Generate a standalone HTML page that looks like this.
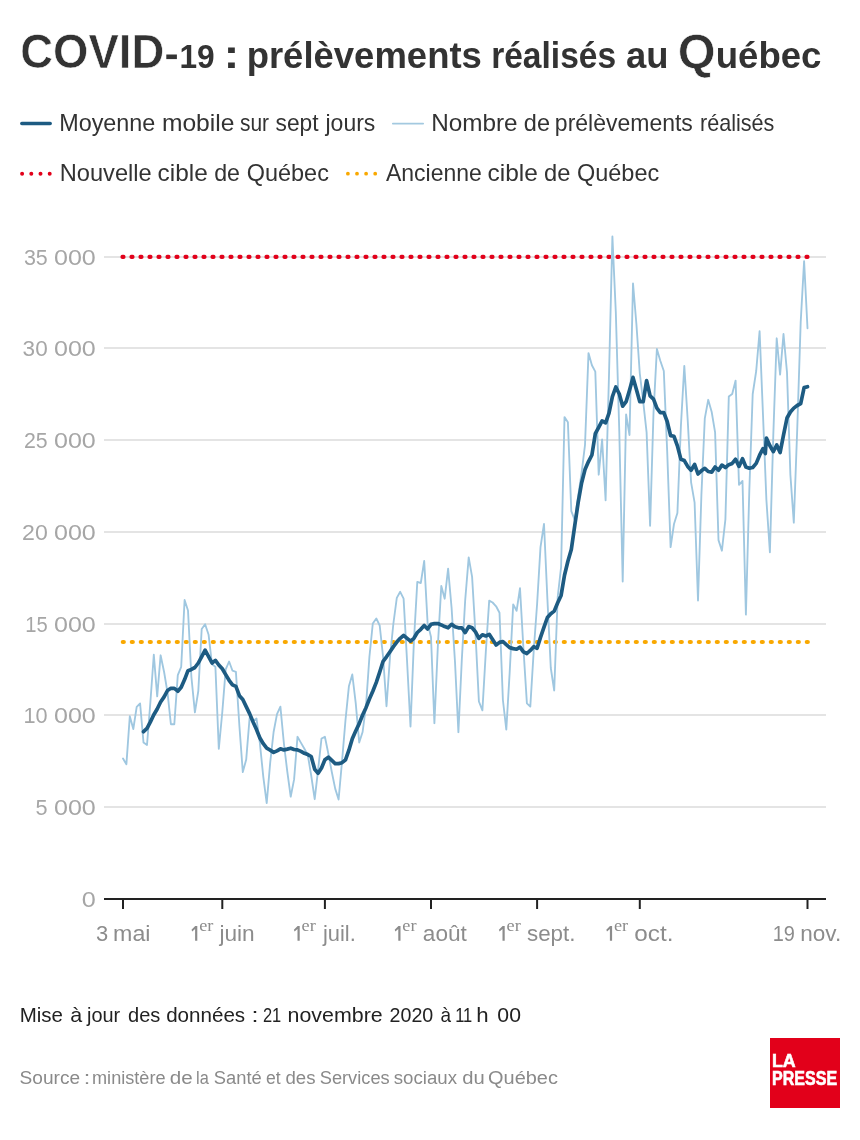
<!DOCTYPE html>
<html lang="fr"><head><meta charset="utf-8"><title>COVID-19 : prélèvements réalisés au Québec</title>
<style>
html,body{margin:0;padding:0;background:#fff;}
body{width:860px;height:1140px;overflow:hidden;font-family:"Liberation Sans",sans-serif;}
svg{display:block;}
text{font-family:"Liberation Sans",sans-serif;}
.serif{font-family:"Liberation Serif",serif;}
</style></head><body>
<svg width="860" height="1140" viewBox="0 0 860 1140">
<rect width="860" height="1140" fill="#fff"/>
<!-- legend swatches -->
<line x1="21.8" x2="50.2" y1="123.6" y2="123.6" stroke="#1d5b82" stroke-width="3.5" stroke-linecap="round"/>
<line x1="392.8" x2="423.2" y1="123.6" y2="123.6" stroke="#a3c9e0" stroke-width="1.7" stroke-linecap="round"/>
<line x1="22.1" x2="50" y1="173.7" y2="173.7" stroke="#e2001a" stroke-width="4" stroke-linecap="round" stroke-dasharray="0 9.2"/>
<line x1="347.9" x2="376" y1="173.7" y2="173.7" stroke="#f9a800" stroke-width="3.8" stroke-linecap="round" stroke-dasharray="0 9.1"/>
<!-- grid -->
<line x1="104" x2="826" y1="807.0" y2="807.0" stroke="#e4e4e4" stroke-width="2"/>
<line x1="104" x2="826" y1="715.0" y2="715.0" stroke="#e4e4e4" stroke-width="2"/>
<line x1="104" x2="826" y1="624.0" y2="624.0" stroke="#e4e4e4" stroke-width="2"/>
<line x1="104" x2="826" y1="532.0" y2="532.0" stroke="#e4e4e4" stroke-width="2"/>
<line x1="104" x2="826" y1="440.0" y2="440.0" stroke="#e4e4e4" stroke-width="2"/>
<line x1="104" x2="826" y1="348.0" y2="348.0" stroke="#e4e4e4" stroke-width="2"/>
<line x1="104" x2="826" y1="257.0" y2="257.0" stroke="#e4e4e4" stroke-width="2"/>

<!-- target lines -->
<line x1="122.5" x2="808.4" y1="256.9" y2="256.9" stroke="#e2001a" stroke-width="4.2" stroke-linecap="round" stroke-dasharray="1 8"/>
<line x1="122.8" x2="808.4" y1="642" y2="642" stroke="#f9a800" stroke-width="4.2" stroke-linecap="round" stroke-dasharray="1 8"/>
<!-- data -->
<polyline fill="none" stroke="#9fc7e0" stroke-width="1.85" stroke-linejoin="round" stroke-linecap="round" points="123.0,758.5 126.4,764.3 129.8,716.2 133.3,729.0 136.7,706.8 140.1,703.5 143.5,742.5 147.0,745.0 150.4,702.0 153.8,654.7 157.2,696.3 160.6,655.3 164.1,672.0 167.5,692.4 170.9,724.2 174.3,724.2 177.8,675.1 181.2,666.8 184.6,600.0 188.0,610.5 191.4,677.0 194.9,712.3 198.3,691.0 201.7,629.0 205.1,624.3 208.6,634.8 212.0,664.3 215.4,666.8 218.8,748.8 222.3,712.0 225.7,669.4 229.1,661.5 232.5,670.7 235.9,671.8 239.4,726.0 242.8,772.1 246.2,759.6 249.6,718.0 253.1,721.0 256.5,718.5 259.9,743.5 263.3,776.8 266.7,803.1 270.2,762.7 273.6,732.0 277.0,714.2 280.4,706.7 283.9,743.5 287.3,771.7 290.7,796.7 294.1,779.4 297.5,736.8 301.0,742.9 304.4,748.7 307.8,755.0 311.2,775.5 314.7,799.2 318.1,769.8 321.5,738.5 324.9,736.8 328.4,754.0 331.8,772.0 335.2,788.6 338.6,799.5 342.0,761.7 345.5,720.0 348.9,686.3 352.3,674.5 355.7,702.9 359.2,742.5 362.6,732.0 366.0,706.0 369.4,657.0 372.8,623.5 376.3,618.4 379.7,625.5 383.1,657.0 386.5,706.3 390.0,657.0 393.4,623.5 396.8,597.9 400.2,591.8 403.6,598.6 407.1,662.0 410.5,726.5 413.9,641.5 417.3,581.9 420.8,583.0 424.2,561.0 427.6,623.0 431.0,637.0 434.4,723.2 437.9,645.0 441.3,585.9 444.7,598.7 448.1,568.6 451.6,608.0 455.0,662.0 458.4,732.2 461.8,660.0 465.2,600.0 468.7,557.4 472.1,576.9 475.5,634.0 478.9,701.5 482.4,710.4 485.8,652.0 489.2,600.6 492.6,602.5 496.1,606.3 499.5,612.7 502.9,700.0 506.3,729.6 509.7,672.0 513.2,604.4 516.6,610.8 520.0,588.2 523.4,648.0 526.9,703.4 530.3,706.6 533.7,651.0 537.1,604.0 540.5,547.1 544.0,524.0 547.4,599.0 550.8,668.0 554.2,690.5 557.7,597.0 561.1,567.0 564.5,417.1 567.9,422.2 571.3,511.2 574.8,520.2 578.2,496.0 581.6,472.8 585.0,445.0 588.5,353.1 591.9,365.2 595.3,371.6 598.7,474.7 602.1,439.5 605.6,500.3 609.0,375.0 612.4,236.4 615.8,312.0 619.3,432.0 622.7,581.6 626.1,414.5 629.5,435.0 633.0,283.4 636.4,324.0 639.8,373.5 643.2,401.7 646.6,432.4 650.1,525.8 653.5,413.0 656.9,348.9 660.3,360.7 663.8,371.0 667.2,451.6 670.6,547.1 674.0,524.0 677.4,513.0 680.9,426.0 684.3,365.9 687.7,420.0 691.1,482.3 694.6,502.7 698.0,600.5 701.4,495.0 704.8,418.3 708.2,399.8 711.7,412.0 715.1,432.4 718.5,540.1 721.9,550.7 725.4,519.3 728.8,396.6 732.2,394.0 735.6,380.6 739.0,484.8 742.5,481.0 745.9,614.6 749.3,491.0 752.7,394.0 756.2,371.0 759.6,331.2 763.0,415.0 766.4,500.0 769.9,552.3 773.3,435.0 776.7,338.3 780.1,374.6 783.5,334.0 787.0,372.3 790.4,475.0 793.8,522.6 797.2,430.0 800.7,322.0 804.1,261.1 807.5,328.3"/>
<polyline fill="none" stroke="#1d5b82" stroke-width="3.7" stroke-linejoin="round" stroke-linecap="round" points="143.5,731.7 147.0,728.4 150.4,721.9 153.8,714.8 157.2,709.0 160.6,702.0 164.1,696.9 167.5,690.5 170.9,688.3 174.3,688.3 177.8,691.2 181.2,687.3 184.6,679.6 188.0,670.7 191.4,669.4 194.9,667.5 198.3,663.0 201.7,656.6 205.1,650.2 208.6,656.6 212.0,663.0 215.4,660.4 218.8,665.0 222.3,668.8 225.7,674.6 229.1,680.3 232.5,684.8 235.9,686.4 239.4,695.7 242.8,699.5 246.2,706.6 249.6,713.6 253.1,722.0 256.5,729.6 259.9,738.0 263.3,743.7 266.7,748.2 270.2,750.1 273.6,752.4 277.0,750.8 280.4,748.8 283.9,749.9 287.3,749.1 290.7,748.2 294.1,749.5 297.5,749.9 301.0,751.4 304.4,753.3 307.8,754.6 311.2,756.5 314.7,769.3 318.1,773.2 321.5,768.0 324.9,759.8 328.4,757.2 331.8,760.4 335.2,763.6 338.6,763.6 342.0,762.7 345.5,759.8 348.9,750.2 352.3,738.7 355.7,731.0 359.2,723.6 362.6,715.0 366.0,707.7 369.4,699.0 372.8,691.3 376.3,682.4 379.7,672.2 383.1,661.3 386.5,656.8 390.0,651.7 393.4,646.6 396.8,642.1 400.2,638.3 403.6,635.3 407.1,638.3 410.5,641.2 413.9,638.3 417.3,632.5 420.8,629.3 424.2,625.5 427.6,629.0 431.0,624.3 434.4,623.6 437.9,623.6 441.3,624.9 444.7,626.6 448.1,627.8 451.6,624.3 455.0,626.8 458.4,627.8 461.8,627.8 465.2,632.6 468.7,626.6 472.1,627.8 475.5,631.9 478.9,638.3 482.4,634.8 485.8,636.0 489.2,634.3 492.6,639.6 496.1,645.0 499.5,642.4 502.9,641.5 506.3,644.7 509.7,647.6 513.2,648.6 516.6,649.2 520.0,647.1 523.4,651.8 526.9,653.5 530.3,650.4 533.7,646.7 537.1,648.3 540.5,637.4 544.0,627.1 547.4,617.5 550.8,613.7 554.2,611.1 557.7,602.8 561.1,595.4 564.5,575.2 567.9,561.2 571.3,549.6 574.8,525.3 578.2,502.3 581.6,483.0 585.0,469.6 588.5,461.6 591.9,455.0 595.3,433.7 598.7,427.3 602.1,420.9 605.6,422.8 609.0,413.2 612.4,396.6 615.8,387.0 619.3,394.0 622.7,406.2 626.1,401.7 629.5,390.2 633.0,377.4 636.4,389.5 639.8,401.7 643.2,401.7 646.6,380.6 650.1,395.9 653.5,399.1 656.9,408.1 660.3,412.6 663.8,412.6 667.2,421.5 670.6,435.6 674.0,436.3 677.4,445.9 680.9,459.3 684.3,460.6 687.7,466.4 691.1,470.2 694.6,464.4 698.0,474.0 701.4,470.8 704.8,468.3 708.2,471.5 711.7,472.1 715.1,467.0 718.5,470.2 721.9,465.1 725.4,467.6 728.8,464.7 732.2,463.4 735.6,459.3 739.0,466.4 742.5,458.7 745.9,467.0 749.3,468.2 752.7,467.5 756.2,463.4 759.6,455.2 763.0,448.6 765.3,453.5 766.4,438.1 769.9,445.8 773.3,451.6 776.7,445.0 780.1,452.6 783.5,435.2 787.0,418.0 790.4,412.0 793.8,408.1 797.2,405.5 800.7,403.6 804.1,387.6 807.5,386.7"/>
<!-- axis -->
<line x1="104" x2="826" y1="899" y2="899" stroke="#222" stroke-width="2"/>
<line x1="123.0" x2="123.0" y1="899" y2="909" stroke="#222" stroke-width="2"/>
<line x1="222.3" x2="222.3" y1="899" y2="909" stroke="#222" stroke-width="2"/>
<line x1="324.9" x2="324.9" y1="899" y2="909" stroke="#222" stroke-width="2"/>
<line x1="431.0" x2="431.0" y1="899" y2="909" stroke="#222" stroke-width="2"/>
<line x1="537.1" x2="537.1" y1="899" y2="909" stroke="#222" stroke-width="2"/>
<line x1="639.8" x2="639.8" y1="899" y2="909" stroke="#222" stroke-width="2"/>
<line x1="807.5" x2="807.5" y1="899" y2="909" stroke="#222" stroke-width="2"/>

<!-- text -->
<rect x="166.3" y="54.5" width="10.6" height="4.6" fill="#333"/>
<g style="filter:grayscale(1)">
<text x="20.18" y="68.0" font-size="47.5" font-weight="bold" stroke="#fff" stroke-width="0.6" fill="#333333" textLength="144.07" lengthAdjust="spacingAndGlyphs">COVID</text>
<text x="179.52" y="68.0" font-size="33.6" font-weight="bold" fill="#333333" textLength="35.19" lengthAdjust="spacingAndGlyphs">19</text>
<text x="223.43" y="68.0" font-size="41" font-weight="bold" fill="#333333" textLength="15.93" lengthAdjust="spacingAndGlyphs">:</text>
<text x="246.65" y="68.0" font-size="37.3" font-weight="bold" fill="#333333" textLength="235.21" lengthAdjust="spacingAndGlyphs">prélèvements</text>
<text x="491.15" y="68.0" font-size="37.3" font-weight="bold" fill="#333333" textLength="124.96" lengthAdjust="spacingAndGlyphs">réalisés</text>
<text x="626.12" y="68.0" font-size="37.3" font-weight="bold" fill="#333333" textLength="42.47" lengthAdjust="spacingAndGlyphs">au</text>
<text x="677.72" y="68.0" font-size="47.5" font-weight="bold" stroke="#fff" stroke-width="0.6" fill="#333333" textLength="37.81" lengthAdjust="spacingAndGlyphs">Q</text>
<text x="715.69" y="68.0" font-size="37.3" font-weight="bold" fill="#333333" textLength="105.76" lengthAdjust="spacingAndGlyphs">uébec</text>
<text x="59.21" y="130.8" font-size="23.4" fill="#333333" textLength="96.10" lengthAdjust="spacingAndGlyphs">Moyenne</text>
<text x="161.91" y="130.8" font-size="23.4" fill="#333333" textLength="72.44" lengthAdjust="spacingAndGlyphs">mobile</text>
<text x="240.03" y="130.8" font-size="23.4" fill="#333333" textLength="29.06" lengthAdjust="spacingAndGlyphs">sur</text>
<text x="275.54" y="130.8" font-size="23.4" fill="#333333" textLength="43.00" lengthAdjust="spacingAndGlyphs">sept</text>
<text x="325.52" y="130.8" font-size="23.4" fill="#333333" textLength="49.83" lengthAdjust="spacingAndGlyphs">jours</text>
<text x="431.23" y="130.8" font-size="23.4" fill="#333333" textLength="86.39" lengthAdjust="spacingAndGlyphs">Nombre</text>
<text x="523.87" y="130.8" font-size="23.4" fill="#333333" textLength="26.16" lengthAdjust="spacingAndGlyphs">de</text>
<text x="554.85" y="130.8" font-size="23.4" fill="#333333" textLength="138.02" lengthAdjust="spacingAndGlyphs">prélèvements</text>
<text x="700.03" y="130.8" font-size="23.4" fill="#333333" textLength="74.39" lengthAdjust="spacingAndGlyphs">réalisés</text>
<text x="59.79" y="180.8" font-size="23.4" fill="#333333" textLength="91.93" lengthAdjust="spacingAndGlyphs">Nouvelle</text>
<text x="157.61" y="180.8" font-size="23.4" fill="#333333" textLength="50.14" lengthAdjust="spacingAndGlyphs">cible</text>
<text x="214.18" y="180.8" font-size="23.4" fill="#333333" textLength="25.83" lengthAdjust="spacingAndGlyphs">de</text>
<text x="246.78" y="180.8" font-size="23.4" fill="#333333" textLength="82.11" lengthAdjust="spacingAndGlyphs">Québec</text>
<text x="385.99" y="180.8" font-size="23.4" fill="#333333" textLength="95.91" lengthAdjust="spacingAndGlyphs">Ancienne</text>
<text x="487.60" y="180.8" font-size="23.4" fill="#333333" textLength="50.25" lengthAdjust="spacingAndGlyphs">cible</text>
<text x="543.96" y="180.8" font-size="23.4" fill="#333333" textLength="26.38" lengthAdjust="spacingAndGlyphs">de</text>
<text x="576.98" y="180.8" font-size="23.4" fill="#333333" textLength="82.21" lengthAdjust="spacingAndGlyphs">Québec</text>
<text x="23.90" y="264.7" font-size="21.8" fill="#a6a6a6" textLength="23.84" lengthAdjust="spacingAndGlyphs">35</text>
<text x="53.97" y="264.7" font-size="21.8" fill="#a6a6a6" textLength="41.84" lengthAdjust="spacingAndGlyphs">000</text>
<text x="22.64" y="355.7" font-size="21.8" fill="#a6a6a6" textLength="25.08" lengthAdjust="spacingAndGlyphs">30</text>
<text x="53.97" y="355.7" font-size="21.8" fill="#a6a6a6" textLength="41.84" lengthAdjust="spacingAndGlyphs">000</text>
<text x="24.03" y="447.7" font-size="21.8" fill="#a6a6a6" textLength="23.70" lengthAdjust="spacingAndGlyphs">25</text>
<text x="53.97" y="447.7" font-size="21.8" fill="#a6a6a6" textLength="41.84" lengthAdjust="spacingAndGlyphs">000</text>
<text x="22.04" y="539.7" font-size="21.8" fill="#a6a6a6" textLength="25.71" lengthAdjust="spacingAndGlyphs">20</text>
<text x="53.97" y="539.7" font-size="21.8" fill="#a6a6a6" textLength="41.84" lengthAdjust="spacingAndGlyphs">000</text>
<text x="25.26" y="631.7" font-size="21.8" fill="#a6a6a6" textLength="22.42" lengthAdjust="spacingAndGlyphs">15</text>
<text x="53.97" y="631.7" font-size="21.8" fill="#a6a6a6" textLength="41.84" lengthAdjust="spacingAndGlyphs">000</text>
<text x="23.54" y="722.7" font-size="21.8" fill="#a6a6a6" textLength="24.14" lengthAdjust="spacingAndGlyphs">10</text>
<text x="53.97" y="722.7" font-size="21.8" fill="#a6a6a6" textLength="41.84" lengthAdjust="spacingAndGlyphs">000</text>
<text x="35.56" y="814.7" font-size="21.8" fill="#a6a6a6" textLength="12.07" lengthAdjust="spacingAndGlyphs">5</text>
<text x="53.97" y="814.7" font-size="21.8" fill="#a6a6a6" textLength="41.84" lengthAdjust="spacingAndGlyphs">000</text>
<text x="81.77" y="906.7" font-size="21.8" fill="#a6a6a6" textLength="14.02" lengthAdjust="spacingAndGlyphs">0</text>
<text x="96.06" y="940.6" font-size="21.5" fill="#8c8c8c" textLength="12.20" lengthAdjust="spacingAndGlyphs">3</text>
<text x="113.11" y="940.6" font-size="21.5" fill="#8c8c8c" textLength="37.35" lengthAdjust="spacingAndGlyphs">mai</text>
<text x="199.15" y="930.6" font-size="16.5" class="serif" fill="#8c8c8c" textLength="14.18" lengthAdjust="spacingAndGlyphs">er</text>
<text x="219.43" y="940.6" font-size="21.5" fill="#8c8c8c" textLength="35.29" lengthAdjust="spacingAndGlyphs">juin</text>
<text x="301.55" y="930.6" font-size="16.5" class="serif" fill="#8c8c8c" textLength="14.18" lengthAdjust="spacingAndGlyphs">er</text>
<text x="322.91" y="940.6" font-size="21.5" fill="#8c8c8c" textLength="32.82" lengthAdjust="spacingAndGlyphs">juil.</text>
<text x="402.35" y="930.6" font-size="16.5" class="serif" fill="#8c8c8c" textLength="14.18" lengthAdjust="spacingAndGlyphs">er</text>
<text x="422.85" y="940.6" font-size="21.5" fill="#8c8c8c" textLength="44.00" lengthAdjust="spacingAndGlyphs">août</text>
<text x="506.55" y="930.6" font-size="16.5" class="serif" fill="#8c8c8c" textLength="14.18" lengthAdjust="spacingAndGlyphs">er</text>
<text x="527.00" y="940.6" font-size="21.5" fill="#8c8c8c" textLength="48.50" lengthAdjust="spacingAndGlyphs">sept.</text>
<text x="613.95" y="930.6" font-size="16.5" class="serif" fill="#8c8c8c" textLength="14.18" lengthAdjust="spacingAndGlyphs">er</text>
<text x="634.27" y="940.6" font-size="21.5" fill="#8c8c8c" textLength="39.13" lengthAdjust="spacingAndGlyphs">oct.</text>
<text x="772.76" y="940.6" font-size="21.5" fill="#8c8c8c" textLength="22.20" lengthAdjust="spacingAndGlyphs">19</text>
<text x="800.25" y="940.6" font-size="21.5" fill="#8c8c8c" textLength="40.91" lengthAdjust="spacingAndGlyphs">nov.</text>
<text x="19.71" y="1021.9" font-size="20.6" fill="#222222" textLength="43.29" lengthAdjust="spacingAndGlyphs">Mise</text>
<text x="70.33" y="1021.9" font-size="20.6" fill="#222222" textLength="11.96" lengthAdjust="spacingAndGlyphs">à</text>
<text x="86.96" y="1021.9" font-size="20.6" fill="#222222" textLength="33.21" lengthAdjust="spacingAndGlyphs">jour</text>
<text x="128.09" y="1021.9" font-size="20.6" fill="#222222" textLength="32.33" lengthAdjust="spacingAndGlyphs">des</text>
<text x="166.17" y="1021.9" font-size="20.6" fill="#222222" textLength="79.00" lengthAdjust="spacingAndGlyphs">données</text>
<text x="251.54" y="1021.9" font-size="20.6" fill="#222222" textLength="7.00" lengthAdjust="spacingAndGlyphs">:</text>
<text x="262.92" y="1021.9" font-size="20.6" fill="#222222" textLength="18.34" lengthAdjust="spacingAndGlyphs">21</text>
<text x="287.60" y="1021.9" font-size="20.6" fill="#222222" textLength="95.04" lengthAdjust="spacingAndGlyphs">novembre</text>
<text x="389.60" y="1021.9" font-size="20.6" fill="#222222" textLength="43.72" lengthAdjust="spacingAndGlyphs">2020</text>
<text x="440.43" y="1021.9" font-size="20.6" fill="#222222" textLength="10.56" lengthAdjust="spacingAndGlyphs">à</text>
<text x="455.15" y="1021.9" font-size="20.6" fill="#222222" textLength="17.11" lengthAdjust="spacingAndGlyphs">11</text>
<text x="476.37" y="1021.9" font-size="20.6" fill="#222222" textLength="12.39" lengthAdjust="spacingAndGlyphs">h</text>
<text x="497.39" y="1021.9" font-size="20.6" fill="#222222" textLength="23.60" lengthAdjust="spacingAndGlyphs">00</text>
<text x="19.57" y="1083.5" font-size="19.2" fill="#8a8a8a" textLength="60.51" lengthAdjust="spacingAndGlyphs">Source</text>
<text x="83.86" y="1083.5" font-size="19.2" fill="#8a8a8a" textLength="6.52" lengthAdjust="spacingAndGlyphs">:</text>
<text x="92.02" y="1083.5" font-size="19.2" fill="#8a8a8a" textLength="73.50" lengthAdjust="spacingAndGlyphs">ministère</text>
<text x="169.85" y="1083.5" font-size="19.2" fill="#8a8a8a" textLength="22.94" lengthAdjust="spacingAndGlyphs">de</text>
<text x="196.04" y="1083.5" font-size="19.2" fill="#8a8a8a" textLength="12.74" lengthAdjust="spacingAndGlyphs">la</text>
<text x="213.82" y="1083.5" font-size="19.2" fill="#8a8a8a" textLength="47.91" lengthAdjust="spacingAndGlyphs">Santé</text>
<text x="265.97" y="1083.5" font-size="19.2" fill="#8a8a8a" textLength="14.69" lengthAdjust="spacingAndGlyphs">et</text>
<text x="285.43" y="1083.5" font-size="19.2" fill="#8a8a8a" textLength="30.03" lengthAdjust="spacingAndGlyphs">des</text>
<text x="319.72" y="1083.5" font-size="19.2" fill="#8a8a8a" textLength="69.96" lengthAdjust="spacingAndGlyphs">Services</text>
<text x="393.81" y="1083.5" font-size="19.2" fill="#8a8a8a" textLength="63.23" lengthAdjust="spacingAndGlyphs">sociaux</text>
<text x="462.17" y="1083.5" font-size="19.2" fill="#8a8a8a" textLength="22.48" lengthAdjust="spacingAndGlyphs">du</text>
<text x="488.07" y="1083.5" font-size="19.2" fill="#8a8a8a" textLength="69.86" lengthAdjust="spacingAndGlyphs">Québec</text>

<path d="M191.50 929.70 L195.20 926.00 L197.30 926.00 L197.30 940.70 L195.10 940.70 L195.10 928.90 L192.20 931.40 Z" fill="#8c8c8c"/>
<path d="M293.90 929.70 L297.60 926.00 L299.70 926.00 L299.70 940.70 L297.50 940.70 L297.50 928.90 L294.60 931.40 Z" fill="#8c8c8c"/>
<path d="M394.70 929.70 L398.40 926.00 L400.50 926.00 L400.50 940.70 L398.30 940.70 L398.30 928.90 L395.40 931.40 Z" fill="#8c8c8c"/>
<path d="M498.90 929.70 L502.60 926.00 L504.70 926.00 L504.70 940.70 L502.50 940.70 L502.50 928.90 L499.60 931.40 Z" fill="#8c8c8c"/>
<path d="M606.30 929.70 L610.00 926.00 L612.10 926.00 L612.10 940.70 L609.90 940.70 L609.90 928.90 L607.00 931.40 Z" fill="#8c8c8c"/>

</g>
<!-- logo -->
<rect x="770" y="1038" width="70" height="70" fill="#e2001a"/>
<g style="filter:grayscale(1)">
<text stroke="#fff" stroke-width="0.6" x="771.96" y="1067.4" font-size="19" font-weight="bold" fill="#ffffff" textLength="23.71" lengthAdjust="spacingAndGlyphs">LA</text>
<text stroke="#fff" stroke-width="0.6" x="772.08" y="1085.0" font-size="19.5" font-weight="bold" fill="#ffffff" textLength="65.04" lengthAdjust="spacingAndGlyphs">PRESSE</text>

</g>
</svg>
</body></html>
